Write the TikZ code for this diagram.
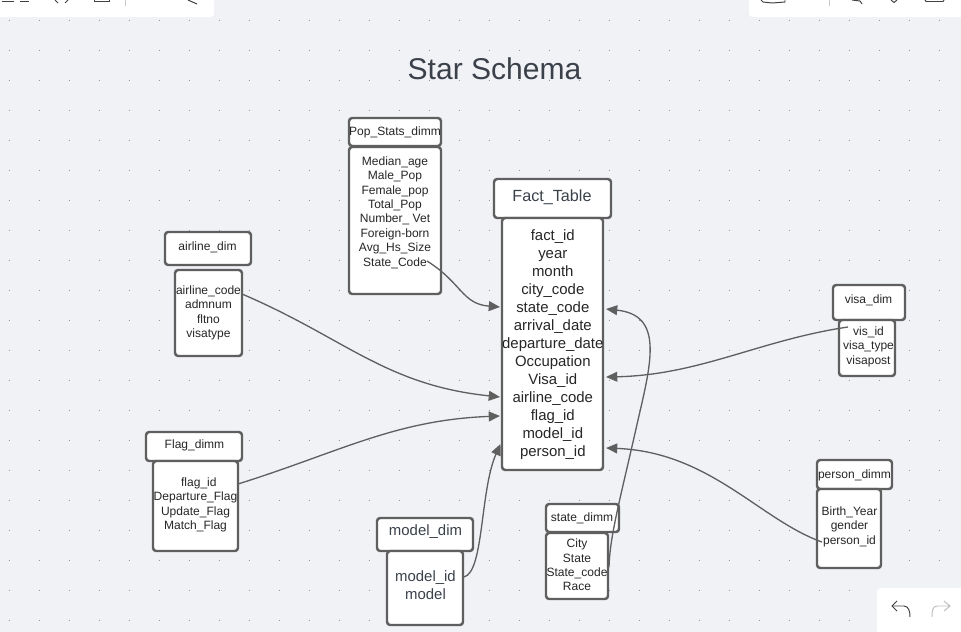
\documentclass[tikz,border=0pt]{standalone}
\usepackage{fontspec}
\setmainfont{Liberation Sans}
\usetikzlibrary{arrows.meta}
\definecolor{canvas}{HTML}{F1F2F5}
\definecolor{griddot}{HTML}{8C9096}
\definecolor{boxline}{HTML}{5F5F5F}
\definecolor{inkgrey}{HTML}{3A414A}
\tikzset{
  box/.style={draw=boxline, line width=1.4pt, fill=white, rounded corners=1.8pt, inner sep=0pt},
  small/.style={font=\fontsize{6.85}{8.2}\selectfont, align=center, inner sep=0pt, text=black!85},
  big/.style={font=\fontsize{8.5}{10.25}\selectfont, align=center, inner sep=0pt, text=black!85},
  greybig/.style={font=\fontsize{8.5}{10.25}\selectfont, align=center, inner sep=0pt, text=inkgrey},
  link/.style={draw=boxline, line width=0.75pt, -{Triangle[length=6.4pt,width=5.6pt]}},
  panel/.style={fill=white, rounded corners=2pt},
  icon/.style={draw=black!75, line width=0.55pt}
}
\newcommand{\tablebox}[5]{% name, left, top, right, bottom
  \node[box, minimum width={(#4-#2)*0.02cm}, minimum height={(#5-#3)*0.02cm}] (#1) at ({(#2+#4)/2},{(#3+#5)/2}) {};
}
\begin{document}
\begin{tikzpicture}[x=0.02cm,y=-0.02cm]
\useasboundingbox (0,0) rectangle (961,632);
\fill[canvas] (0,0) rectangle (961,632);

% dots
\foreach \gx in {0,...,31}
  \foreach \gy in {0,...,20}
    \fill[griddot] ({9.4+30*\gx},{20.4+30*\gy}) circle (0.55);

% tool panels
\fill[panel] (-10,-10) rectangle (214,17);
\fill[panel] (749,-10) rectangle (971,17);
\fill[panel] (877,588) rectangle (971,642);
\draw[black!20, line width=0.5pt] (125.5,0) -- (125.5,6);
\draw[black!20, line width=0.5pt] (829.5,0) -- (829.5,6);
\draw[icon] (94,0) -- (94,1.5) -- (109,1.5) -- (109,0);
\draw[icon] (55,0) -- (58,3) (68,0) -- (65,3);
\draw[icon] (2,1) -- (14,1) (20,1) -- (29,1);
\draw[icon] (188,0) -- (197,4);
\draw[icon] (761,0) -- (763,2) -- (772,3) -- (785,2) -- (785,0);
\draw[icon] (852,0) -- (860,1) -- (862,4);
\draw[icon] (891,0) -- (894,2.5) -- (897,0);
\draw[icon] (925,0) -- (926,1.5) -- (943,1.5) -- (944,0);
\draw[icon] (897,601) -- (892,606) -- (897,611);
\draw[icon] (892,606) -- (904,606) to[out=0,in=90] (910,617);
\draw[black!25, line width=0.55pt] (949,606) -- (937,606) to[out=180,in=90] (932,617) (944,601) -- (950,606) -- (944,611);

\node[font=\fontsize{17.1}{20}\selectfont, text=inkgrey, inner sep=0pt] (title) at (494.5,68.5) {Star Schema};

% population table
\tablebox{popHead}{349}{118}{441}{146}
\tablebox{popBody}{349}{147}{441}{294}
\node[small] (popHeadText) at (395,132) {Pop\_Stats\_dimm};
\node[small] (popText) at (395,212.5) {Median\_age\\Male\_Pop\\Female\_pop\\Total\_Pop\\Number\_ Vet\\Foreign-born\\Avg\_Hs\_Size\\State\_Code};

% fact table
\tablebox{factHead}{494}{179}{611}{218}
\tablebox{factBody}{502}{218}{603}{470}
\node[greybig, font=\fontsize{9.2}{11}\selectfont] (factHeadText) at (552,197) {Fact\_Table};
\node[big] (factText) at (552.8,345) {fact\_id\\year\\month\\city\_code\\state\_code\\arrival\_date\\departure\_date\\Occupation\\Visa\_id\\airline\_code\\flag\_id\\model\_id\\person\_id};

% airline table
\tablebox{airHead}{165}{232}{251}{265}
\tablebox{airBody}{175}{270}{242}{356}
\node[small] (airHeadText) at (207.5,247) {airline\_dim};
\node[small] (airText) at (208.5,313) {airline\_code\\admnum\\fltno\\visatype};

% flag table
\tablebox{flagHead}{146}{432}{242}{461}
\tablebox{flagBody}{153}{461}{238}{551}
\node[small] (flagHeadText) at (194.5,445) {Flag\_dimm};
\node[small] (flagText) at (195.5,505) {\ \ flag\_id\\Departure\_Flag\\Update\_Flag\\Match\_Flag};

% model table
\tablebox{modelHead}{377}{518}{473}{551}
\tablebox{modelBody}{387}{551}{463}{625}
\node[greybig] (modelHeadText) at (425.5,532) {model\_dim};
\node[greybig] (modelText) at (425.5,585) {model\_id\\model};

% state table
\tablebox{stateHead}{546}{504}{619}{532}
\tablebox{stateBody}{546}{533}{608}{599}
\node[small] (stateHeadText) at (582,518.5) {state\_dimm};
\node[small] (stateText) at (577,565) {City\\State\\State\_code\\Race};

% visa table
\tablebox{visaHead}{833}{285}{905}{320}
\tablebox{visaBody}{839}{320}{895}{376}
\node[small] (visaHeadText) at (868.5,300.5) {visa\_dim};
\node[small] (visaText) at (868.5,346.5) {vis\_id\\visa\_type\\visapost};

% person table
\tablebox{personHead}{817}{460}{892}{489}
\tablebox{personBody}{817}{489}{881}{568}
\node[small] (personHeadText) at (854.5,475) {person\_dimm};
\node[small] (personText) at (849.5,526.5) {Birth\_Year\\gender\\person\_id};

% free ends
\coordinate (popEnd) at (427,261);
\coordinate (airEnd) at (242,294);
\coordinate (flagEnd) at (238,484);
\coordinate (modelEnd) at (464,577);
\coordinate (stateEnd) at (609,567);
\coordinate (visaEnd) at (848,327);
\coordinate (personEnd) at (822,542);
\coordinate (factState) at (500,307);
\coordinate (factAir) at (500,397);
\coordinate (factFlag) at (500,416);
\coordinate (factModel) at (500.5,444);
\coordinate (factStateR) at (606,309);
\coordinate (factVisa) at (606,377);
\coordinate (factPerson) at (606,448);

\draw[link] (popEnd) .. controls (462,283) and (462,304) .. (factState);
\draw[link] (airEnd) .. controls (345,338) and (385,385) .. (factAir);
\draw[link] (flagEnd) .. controls (340,452) and (395,420) .. (factFlag);
\draw[link] (modelEnd) .. controls (484,572) and (480,490) .. (factModel);
\draw[link] (stateEnd) .. controls (610,535) and (620,500) .. (638,420) .. controls (652,360) and (663,315) .. (factStateR);
\draw[link] (visaEnd) .. controls (760,340) and (700,375) .. (factVisa);
\draw[link] (personEnd) .. controls (760,520) and (710,452) .. (factPerson);
\end{tikzpicture}
\end{document}
